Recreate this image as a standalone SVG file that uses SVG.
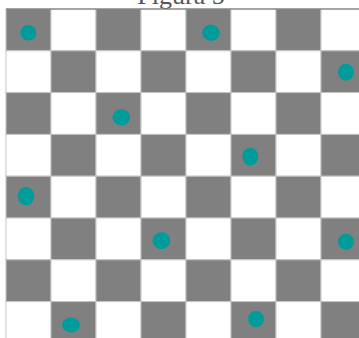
<svg xmlns="http://www.w3.org/2000/svg" width="359" height="338" viewBox="0 0 359 338">
<style>
.g{fill:#808080;stroke:#c4c4c4;stroke-width:1}
.w{fill:#ffffff;stroke:#c4c4c4;stroke-width:1}
.d{fill:#009b9b}
.t{font-family:"Liberation Serif","Times New Roman",serif;font-size:26px;fill:#555555}
</style>
<rect x="0" y="0" width="359" height="338" fill="#ffffff"/>
<text class="t" x="181" y="4" text-anchor="middle">Figura 5</text>
<g id="board">
<rect class="g" x="6" y="9" width="45" height="41.8"/><rect class="w" x="51" y="9" width="45" height="41.8"/><rect class="g" x="96" y="9" width="45" height="41.8"/><rect class="w" x="141" y="9" width="45" height="41.8"/><rect class="g" x="186" y="9" width="45" height="41.8"/><rect class="w" x="231" y="9" width="45" height="41.8"/><rect class="g" x="276" y="9" width="45" height="41.8"/><rect class="w" x="321" y="9" width="45" height="41.8"/>
<rect class="w" x="6" y="50.8" width="45" height="41.8"/><rect class="g" x="51" y="50.8" width="45" height="41.8"/><rect class="w" x="96" y="50.8" width="45" height="41.8"/><rect class="g" x="141" y="50.8" width="45" height="41.8"/><rect class="w" x="186" y="50.8" width="45" height="41.8"/><rect class="g" x="231" y="50.8" width="45" height="41.8"/><rect class="w" x="276" y="50.8" width="45" height="41.8"/><rect class="g" x="321" y="50.8" width="45" height="41.8"/>
<rect class="g" x="6" y="92.6" width="45" height="41.8"/><rect class="w" x="51" y="92.6" width="45" height="41.8"/><rect class="g" x="96" y="92.6" width="45" height="41.8"/><rect class="w" x="141" y="92.6" width="45" height="41.8"/><rect class="g" x="186" y="92.6" width="45" height="41.8"/><rect class="w" x="231" y="92.6" width="45" height="41.8"/><rect class="g" x="276" y="92.6" width="45" height="41.8"/><rect class="w" x="321" y="92.6" width="45" height="41.8"/>
<rect class="w" x="6" y="134.4" width="45" height="41.8"/><rect class="g" x="51" y="134.4" width="45" height="41.8"/><rect class="w" x="96" y="134.4" width="45" height="41.8"/><rect class="g" x="141" y="134.4" width="45" height="41.8"/><rect class="w" x="186" y="134.4" width="45" height="41.8"/><rect class="g" x="231" y="134.4" width="45" height="41.8"/><rect class="w" x="276" y="134.4" width="45" height="41.8"/><rect class="g" x="321" y="134.4" width="45" height="41.8"/>
<rect class="g" x="6" y="176.2" width="45" height="41.8"/><rect class="w" x="51" y="176.2" width="45" height="41.8"/><rect class="g" x="96" y="176.2" width="45" height="41.8"/><rect class="w" x="141" y="176.2" width="45" height="41.8"/><rect class="g" x="186" y="176.2" width="45" height="41.8"/><rect class="w" x="231" y="176.2" width="45" height="41.8"/><rect class="g" x="276" y="176.2" width="45" height="41.8"/><rect class="w" x="321" y="176.2" width="45" height="41.8"/>
<rect class="w" x="6" y="218" width="45" height="41.8"/><rect class="g" x="51" y="218" width="45" height="41.8"/><rect class="w" x="96" y="218" width="45" height="41.8"/><rect class="g" x="141" y="218" width="45" height="41.8"/><rect class="w" x="186" y="218" width="45" height="41.8"/><rect class="g" x="231" y="218" width="45" height="41.8"/><rect class="w" x="276" y="218" width="45" height="41.8"/><rect class="g" x="321" y="218" width="45" height="41.8"/>
<rect class="g" x="6" y="259.8" width="45" height="41.8"/><rect class="w" x="51" y="259.8" width="45" height="41.8"/><rect class="g" x="96" y="259.8" width="45" height="41.8"/><rect class="w" x="141" y="259.8" width="45" height="41.8"/><rect class="g" x="186" y="259.8" width="45" height="41.8"/><rect class="w" x="231" y="259.8" width="45" height="41.8"/><rect class="g" x="276" y="259.8" width="45" height="41.8"/><rect class="w" x="321" y="259.8" width="45" height="41.8"/>
<rect class="w" x="6" y="301.6" width="45" height="41.8"/><rect class="g" x="51" y="301.6" width="45" height="41.8"/><rect class="w" x="96" y="301.6" width="45" height="41.8"/><rect class="g" x="141" y="301.6" width="45" height="41.8"/><rect class="w" x="186" y="301.6" width="45" height="41.8"/><rect class="g" x="231" y="301.6" width="45" height="41.8"/><rect class="w" x="276" y="301.6" width="45" height="41.8"/><rect class="g" x="321" y="301.6" width="45" height="41.8"/>
<line x1="6" y1="9" x2="359" y2="9" stroke="#666666" stroke-width="1"/>
</g>
<g id="dots">
<ellipse class="d" cx="28.3" cy="32.7" rx="8" ry="7.8"/>
<ellipse class="d" cx="211" cy="32.7" rx="8.8" ry="8.2"/>
<ellipse class="d" cx="346" cy="72.3" rx="8" ry="8.5"/>
<ellipse class="d" cx="121.3" cy="117.3" rx="9" ry="8"/>
<ellipse class="d" cx="250.3" cy="156.7" rx="8" ry="9"/>
<ellipse class="d" cx="26" cy="196" rx="8.3" ry="9.2"/>
<ellipse class="d" cx="161.3" cy="240.7" rx="9" ry="8.5"/>
<ellipse class="d" cx="346" cy="241.7" rx="8" ry="8"/>
<ellipse class="d" cx="71" cy="325" rx="9" ry="7.5"/>
<ellipse class="d" cx="256" cy="319" rx="8" ry="8.3"/>
</g>
</svg>
